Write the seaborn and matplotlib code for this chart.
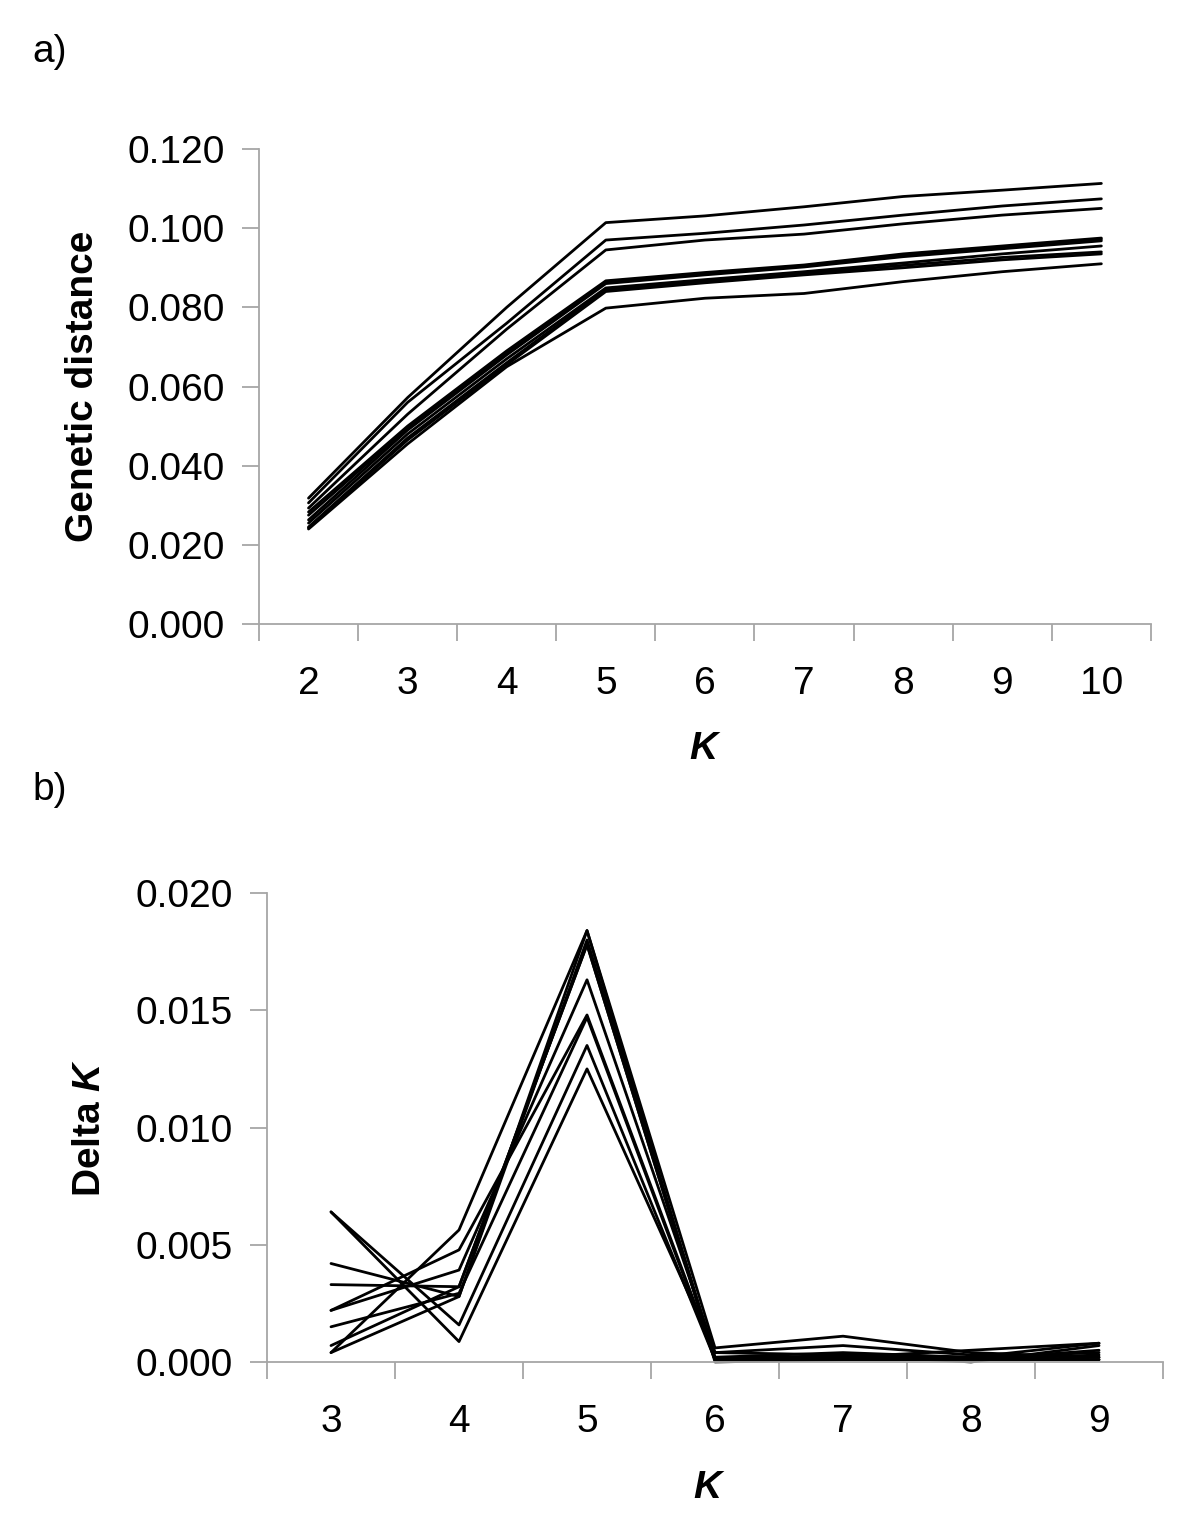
import numpy as np
import pandas as pd
import matplotlib
matplotlib.use("Agg")
import matplotlib.pyplot as plt
import seaborn as sns

# panel a: genetic distance for K = 2..10, ten runs
k_a = [2, 3, 4, 5, 6, 7, 8, 9, 10]
run1 = [0.0318, 0.0572, 0.0800, 0.1014, 0.1031, 0.1054, 0.1080, 0.1096, 0.1113]
run2 = [0.0306, 0.0560, 0.0760, 0.0970, 0.0987, 0.1008, 0.1033, 0.1056, 0.1074]
run3 = [0.0293, 0.0530, 0.0745, 0.0945, 0.0970, 0.0985, 0.1011, 0.1033, 0.1050]
run4 = [0.0283, 0.0500, 0.0690, 0.0867, 0.0888, 0.0907, 0.0935, 0.0955, 0.0975]
run5 = [0.0275, 0.0495, 0.0685, 0.0864, 0.0885, 0.0905, 0.0932, 0.0952, 0.0972]
run6 = [0.0263, 0.0490, 0.0680, 0.0860, 0.0882, 0.0902, 0.0928, 0.0948, 0.0968]
run7 = [0.0255, 0.0480, 0.0670, 0.0849, 0.0870, 0.0890, 0.0912, 0.0935, 0.0955]
run8 = [0.0245, 0.0470, 0.0660, 0.0845, 0.0866, 0.0886, 0.0906, 0.0926, 0.0940]
run9 = [0.0243, 0.0465, 0.0655, 0.0840, 0.0862, 0.0882, 0.0900, 0.0920, 0.0935]
run10 = [0.0240, 0.0455, 0.0650, 0.0798, 0.0823, 0.0835, 0.0865, 0.0890, 0.0910]
dist_runs = [run1, run2, run3, run4, run5, run6, run7, run8, run9, run10]

# panel b: delta K for K = 3..9, ten runs
k_b = [3, 4, 5, 6, 7, 8, 9]
dk1 = [0.0064, 0.00087, 0.0125, 0.0004, 0.0003, 0.0002, 0.0008]
dk2 = [0.0064, 0.00158, 0.0135, 0.0001, 0.0001, 0.0001, 0.0005]
dk3 = [0.0042, 0.00279, 0.0184, 0.0006, 0.0011, 0.0004, 0.0002]
dk4 = [0.0033, 0.00321, 0.0178, 0.0001, 0.0003, 0.0000, 0.0007]
dk5 = [0.0022, 0.00478, 0.0148, 0.0002, 0.0004, 0.0002, 0.0001]
dk6 = [0.0022, 0.00392, 0.0163, 0.0004, 0.0007, 0.0003, 0.0002]
dk7 = [0.0015, 0.00293, 0.0147, 0.0001, 0.0002, 0.0005, 0.0008]
dk8 = [0.0007, 0.00321, 0.0178, 0.0001, 0.0001, 0.0001, 0.0001]
dk9 = [0.0004, 0.00563, 0.0184, 0.0000, 0.0001, 0.0002, 0.0004]
dk10 = [0.0004, 0.00279, 0.0180, 0.0002, 0.0002, 0.0001, 0.0003]
delta_runs = [dk1, dk2, dk3, dk4, dk5, dk6, dk7, dk8, dk9, dk10]


def to_long(ks, runs):
    rows = []
    for i, vals in enumerate(runs):
        for k, v in zip(ks, vals):
            rows.append({"K": k, "value": v, "run": i})
    return pd.DataFrame(rows)


df_a = to_long(k_a, dist_runs)
df_b = to_long(k_b, delta_runs)

sns.set_style("white")
plt.rcParams["font.family"] = ["Liberation Sans", "DejaVu Sans"]
plt.rcParams["text.color"] = "black"
plt.rcParams["axes.labelcolor"] = "black"
plt.rcParams["mathtext.fontset"] = "custom"
plt.rcParams["mathtext.it"] = "Liberation Sans:italic:bold"
plt.rcParams["mathtext.rm"] = "Liberation Sans:bold"

fig = plt.figure(figsize=(12, 15.25), dpi=100)
ax_a = fig.add_axes([0.2158, 0.5908, 0.7433, 0.3115])
ax_b = fig.add_axes([0.2225, 0.1069, 0.7467, 0.3075])

gray = "#a6a6a6"


def style_axis(ax, ks, yticks, fmt):
    lo, hi = ks[0] - 0.5, ks[-1] + 0.5
    ax.set_xlim(lo, hi)
    ax.set_xticks(np.arange(lo, hi + 0.01, 1.0))
    ax.set_xticklabels([])
    ax.set_xticks(ks, minor=True)
    ax.set_xticklabels([str(k) for k in ks], minor=True)
    ax.tick_params(axis="x", which="major", direction="out", length=12,
                   width=1.3, color=gray, bottom=True)
    ax.tick_params(axis="x", which="minor", length=0, pad=30, labelsize=28,
                   labelcolor="black")
    ax.set_ylim(yticks[0], yticks[-1])
    ax.set_yticks(yticks)
    ax.set_yticklabels([fmt.format(t) for t in yticks])
    ax.tick_params(axis="y", direction="out", length=12, width=1.3,
                   color=gray, pad=12.7, labelsize=28, left=True,
                   labelcolor="black")
    for side in ["top", "right"]:
        ax.spines[side].set_visible(False)
    for side in ["left", "bottom"]:
        ax.spines[side].set_color(gray)
        ax.spines[side].set_linewidth(1.3)
    if ax.legend_:
        ax.legend_.remove()


sns.lineplot(data=df_a, x="K", y="value", units="run", estimator=None,
             color="black", linewidth=2.0, ax=ax_a, clip_on=False)
style_axis(ax_a, k_a, [0.0, 0.02, 0.04, 0.06, 0.08, 0.10, 0.12], "{:.3f}")
ax_a.set_ylabel("Genetic distance", fontsize=28, fontweight="bold")
ax_a.yaxis.set_label_coords(-0.177, 0.5)
ax_a.set_xlabel("K", fontsize=28, fontweight="bold", fontstyle="italic")
ax_a.xaxis.set_label_coords(0.498, -0.225)

sns.lineplot(data=df_b, x="K", y="value", units="run", estimator=None,
             color="black", linewidth=2.0, ax=ax_b, clip_on=False)
style_axis(ax_b, k_b, [0.0, 0.005, 0.01, 0.015, 0.02], "{:.3f}")
ax_b.set_ylabel(r"Delta $\mathit{K}$", fontsize=28, fontweight="bold")
ax_b.yaxis.set_label_coords(-0.178, 0.5)
ax_b.set_xlabel("K", fontsize=28, fontweight="bold", fontstyle="italic")
ax_b.xaxis.set_label_coords(0.491, -0.230)

fig.text(0.027, 1 - 52 / 1525, "a)", fontsize=28, va="center", ha="left")
fig.text(0.027, 1 - 790 / 1525, "b)", fontsize=28, va="center", ha="left")

fig.savefig("out.png", dpi=100, facecolor="white")
